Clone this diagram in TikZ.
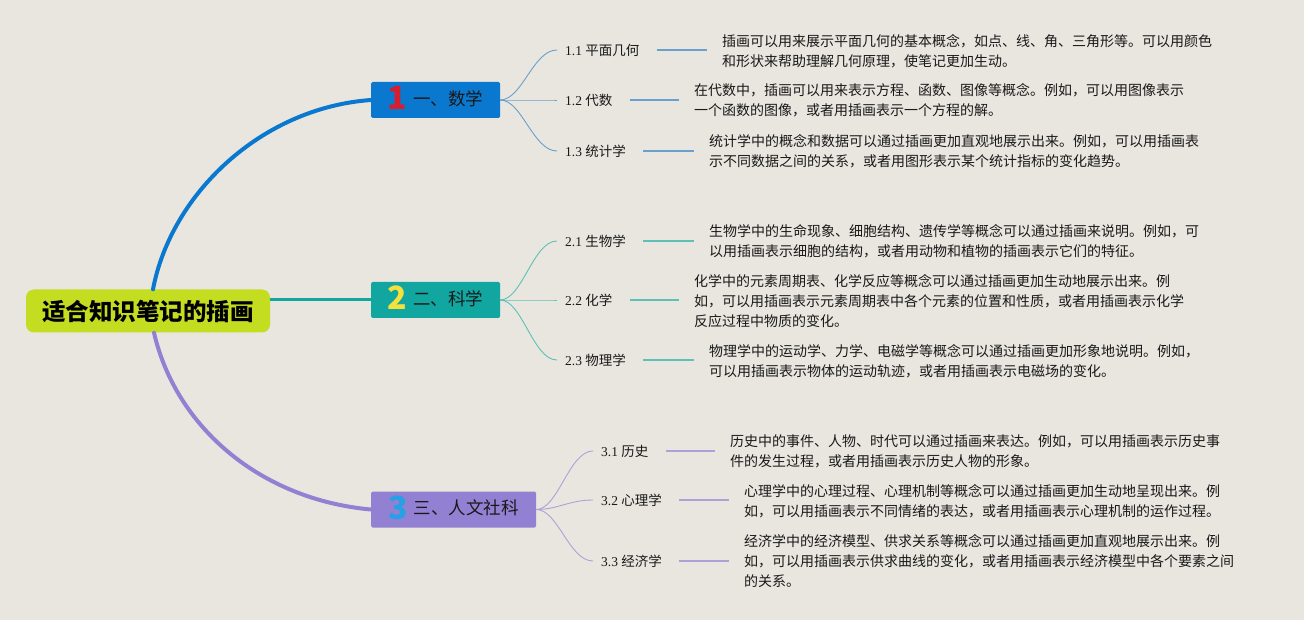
\documentclass[tikz,border=0pt]{standalone}
\usepackage{fontspec}
\setmainfont{Liberation Serif}
\newfontfamily\cjk{Noto Sans CJK SC}
\definecolor{bgc}{RGB}{232,230,223}
\definecolor{limec}{RGB}{197,221,32}
\definecolor{blueb}{RGB}{11,120,207}
\definecolor{tealb}{RGB}{17,166,160}
\definecolor{purpb}{RGB}{146,128,210}
\definecolor{bluel}{RGB}{105,160,205}
\definecolor{teall}{RGB}{95,192,186}
\definecolor{purpl}{RGB}{172,162,218}
\definecolor{numred}{RGB}{215,30,45}
\definecolor{numyel}{RGB}{245,225,60}
\definecolor{numblu}{RGB}{40,160,230}
\definecolor{txt}{RGB}{25,25,25}
\newcommand{\bnum}[2]{\raisebox{-4.5pt}{\smash{\fontsize{32}{32}\selectfont\bfseries\color{#1}#2}}}
\begin{document}
\begin{tikzpicture}[x=1pt,y=-1pt,
  rootbox/.style={fill=limec, rounded corners=8pt, minimum width=244pt, minimum height=43pt, inner sep=0pt,
    font=\cjk\bfseries\fontsize{23.5}{26}\selectfont, text=black},
  branchbox/.style={rounded corners=1.5pt, minimum height=36pt, inner sep=0pt,
    font=\cjk\fontsize{17.5}{20}\selectfont, text=txt},
  subnode/.style={anchor=west, inner xsep=8pt, inner ysep=3pt, font=\fontsize{13.5}{16}\selectfont, text=txt},
  desc/.style={anchor=west, align=left, inner xsep=0pt, inner ysep=2pt, font=\cjk\fontsize{14}{20}\selectfont, text=txt},
  mainline/.style={line width=4pt, line cap=round},
  subcurve/.style={line width=0.9pt},
  leadline/.style={line width=1.6pt, shorten <=9pt, shorten >=15pt}
]
\fill[bgc] (0,0) rectangle (1304,620);
\useasboundingbox (0,0) rectangle (1304,620);

% root and branches
\node[rootbox] (root) at (148,311) {适合知识笔记的插画};
\node[branchbox, fill=blueb, minimum width=129pt] (b1) at (435.5,100)
  {\bnum{numred}{1}\hspace{6pt}一、数学};
\node[branchbox, fill=tealb, minimum width=129pt] (b2) at (435.5,300)
  {\bnum{numyel}{2}\hspace{6pt}二、科学};
\node[branchbox, fill=purpb, minimum width=165pt] (b3) at (453.5,509.5)
  {\bnum{numblu}{3}\hspace{6pt}三、人文社科};

% main connectors
\draw[mainline, blueb] ([xshift=5pt]root.north) .. controls +(18,-95) and +(-110,8) .. (b1.west);
\draw[line width=3pt, tealb] (b2.west -| root.east) -- (b2.west);
\draw[mainline, purpb] ([xshift=6pt]root.south) .. controls +(22,95) and +(-110,-10) .. (b3.west);

% sub nodes
\node[subnode] (s11) at (557,50) {1.1 {\cjk 平面几何}};
\node[subnode] (s12) at (557,100) {1.2 {\cjk 代数}};
\node[subnode] (s13) at (557,151) {1.3 {\cjk 统计学}};
\node[subnode] (s21) at (557,241) {2.1 {\cjk 生物学}};
\node[subnode] (s22) at (557,300) {2.2 {\cjk 化学}};
\node[subnode] (s23) at (557,360) {2.3 {\cjk 物理学}};
\node[subnode] (s31) at (593,451) {3.1 {\cjk 历史}};
\node[subnode] (s32) at (593,500) {3.2 {\cjk 心理学}};
\node[subnode] (s33) at (593,561) {3.3 {\cjk 经济学}};

% descriptions
\node[desc] (d11) at (722,51) {插画可以用来展示平面几何的基本概念，如点、线、角、三角形等。可以用颜色\\和形状来帮助理解几何原理，使笔记更加生动。};
\node[desc] (d12) at (694,100) {在代数中，插画可以用来表示方程、函数、图像等概念。例如，可以用图像表示\\一个函数的图像，或者用插画表示一个方程的解。};
\node[desc] (d13) at (709,151) {统计学中的概念和数据可以通过插画更加直观地展示出来。例如，可以用插画表\\示不同数据之间的关系，或者用图形表示某个统计指标的变化趋势。};
\node[desc] (d21) at (709,241) {生物学中的生命现象、细胞结构、遗传学等概念可以通过插画来说明。例如，可\\以用插画表示细胞的结构，或者用动物和植物的插画表示它们的特征。};
\node[desc] (d22) at (694,301) {化学中的元素周期表、化学反应等概念可以通过插画更加生动地展示出来。例\\如，可以用插画表示元素周期表中各个元素的位置和性质，或者用插画表示化学\\反应过程中物质的变化。};
\node[desc] (d23) at (709,361) {物理学中的运动学、力学、电磁学等概念可以通过插画更加形象地说明。例如，\\可以用插画表示物体的运动轨迹，或者用插画表示电磁场的变化。};
\node[desc] (d31) at (730,451) {历史中的事件、人物、时代可以通过插画来表达。例如，可以用插画表示历史事\\件的发生过程，或者用插画表示历史人物的形象。};
\node[desc] (d32) at (744,501) {心理学中的心理过程、心理机制等概念可以通过插画更加生动地呈现出来。例\\如，可以用插画表示不同情绪的表达，或者用插画表示心理机制的运作过程。};
\node[desc] (d33) at (744,561) {经济学中的经济模型、供求关系等概念可以通过插画更加直观地展示出来。例\\如，可以用插画表示供求曲线的变化，或者用插画表示经济模型中各个要素之间\\的关系。};

% branch -> sub curves
\foreach \s in {s11,s12,s13}
  \draw[subcurve, bluel] (b1.east) .. controls +(22,0) and +(-24,0) .. (\s.west);
\foreach \s in {s21,s22,s23}
  \draw[subcurve, teall] (b2.east) .. controls +(22,0) and +(-24,0) .. (\s.west);
\foreach \s in {s31,s32,s33}
  \draw[subcurve, purpl] (b3.east) .. controls +(22,0) and +(-24,0) .. (\s.west);

% sub -> description lines
\draw[leadline, bluel] (s11.east) -- (s11.east -| d11.west);
\draw[leadline, bluel] (s12.east) -- (s12.east -| d12.west);
\draw[leadline, bluel] (s13.east) -- (s13.east -| d13.west);
\draw[leadline, teall] (s21.east) -- (s21.east -| d21.west);
\draw[leadline, teall] (s22.east) -- (s22.east -| d22.west);
\draw[leadline, teall] (s23.east) -- (s23.east -| d23.west);
\draw[leadline, purpl] (s31.east) -- (s31.east -| d31.west);
\draw[leadline, purpl] (s32.east) -- (s32.east -| d32.west);
\draw[leadline, purpl] (s33.east) -- (s33.east -| d33.west);
\end{tikzpicture}
\end{document}
